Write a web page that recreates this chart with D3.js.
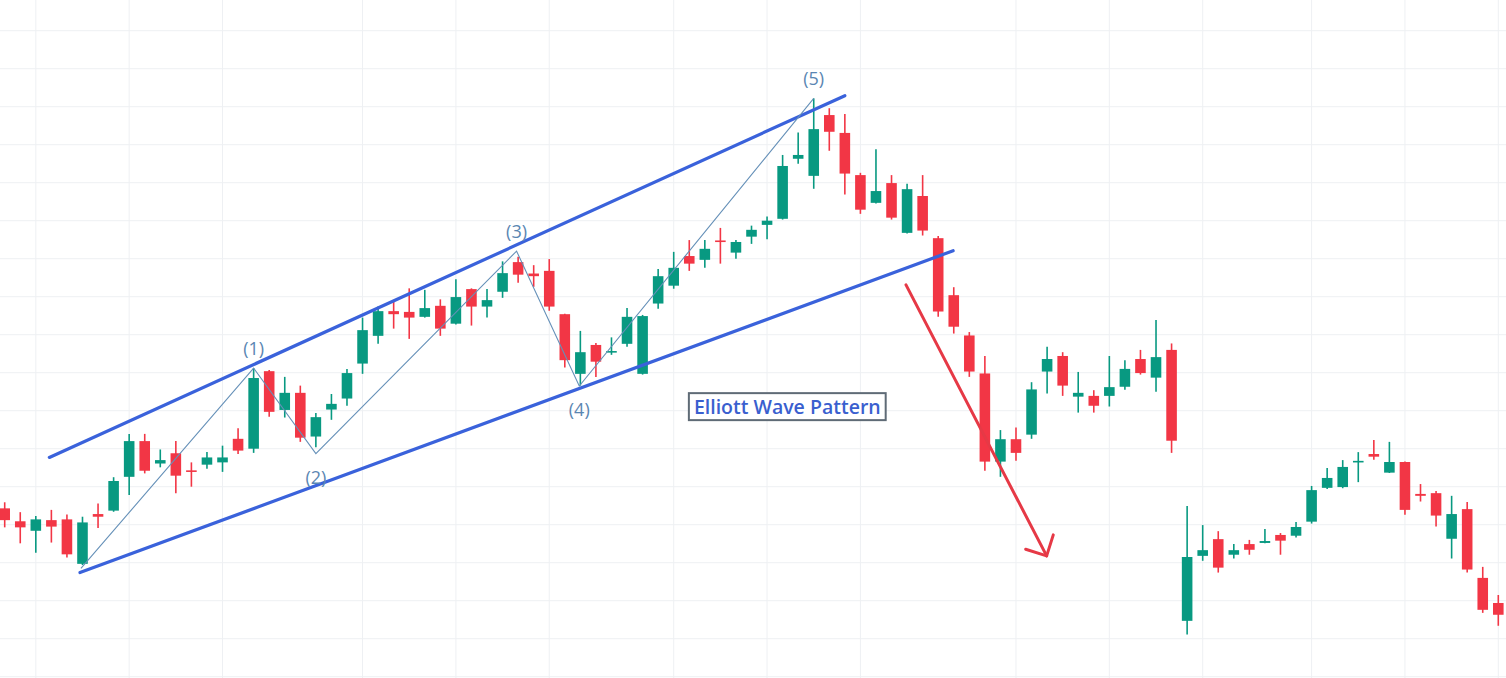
<!DOCTYPE html>
<html>
<head>
<meta charset="utf-8">
<script src="https://cdn.jsdelivr.net/npm/d3@7"></script>
<style>
  html, body { margin: 0; padding: 0; background: #fff; overflow: hidden; }
</style>
</head>
<body>
<div id="chart"></div>
<script>
// candle values, one entry per bar (left to right)
const opens = [54.3, 50.9, 48.4, 51.2, 51.4, 39.7, 52.8, 53.7, 62.6, 72.0,
  66.1, 68.8, 64.3, 65.8, 66.4, 72.6, 70.0, 90.4, 80.2, 84.7,
  73.2, 80.3, 83.2, 92.4, 99.7, 106.2, 106.0, 104.7, 107.6, 102.9,
  112.0, 107.4, 111.3, 119.1, 116.1, 116.8, 105.4, 89.7, 97.3, 95.3,
  97.6, 89.7, 108.2, 112.9, 120.7, 119.7, 124.8, 121.6, 125.8, 128.9,
  130.5, 146.3, 141.8, 157.8, 153.1, 142.0, 134.7, 139.9, 126.8, 136.5,
  125.4, 110.4, 99.8, 89.8, 66.6, 72.5, 73.7, 90.3, 94.4, 83.7,
  83.9, 83.9, 86.3, 93.6, 88.7, 96.0, 24.7, 41.8, 46.2, 42.1,
  44.9, 45.2, 47.3, 47.1, 50.8, 59.7, 59.9, 66.5, 68.6, 63.7,
  66.5, 58.1, 58.3, 46.3, 54.1, 36.0, 29.4];
const highs = [55.9, 53.3, 52.3, 53.9, 52.7, 52.1, 55.6, 62.5, 73.9, 73.9,
  69.8, 72.0, 66.4, 69.1, 70.8, 75.4, 91.2, 90.7, 88.9, 86.6,
  79.4, 84.4, 91.0, 104.5, 107.4, 108.9, 112.2, 111.8, 109.3, 114.6,
  112.2, 112.0, 119.3, 120.5, 118.3, 119.9, 105.5, 101.0, 97.8, 99.3,
  107.0, 105.2, 117.3, 121.8, 124.9, 124.9, 128.1, 124.9, 128.7, 131.1,
  147.3, 153.2, 162.2, 159.6, 158.1, 142.6, 148.8, 142.0, 139.7, 142.0,
  126.0, 112.5, 100.7, 94.4, 74.9, 75.6, 87.5, 96.8, 95.4, 90.2,
  85.4, 94.4, 93.3, 96.0, 103.9, 97.7, 54.9, 49.9, 48.3, 44.9,
  46.0, 48.9, 47.8, 50.7, 60.2, 64.9, 67.0, 69.1, 72.3, 71.8,
  66.6, 60.7, 58.9, 57.6, 56.0, 38.9, 31.5];
const lows = [49.3, 45.1, 42.6, 45.3, 41.4, 39.4, 49.1, 53.4, 57.8, 63.5,
  65.1, 58.3, 60.0, 64.7, 63.9, 68.6, 68.9, 78.4, 78.2, 71.8,
  70.4, 77.6, 81.3, 89.7, 97.6, 101.6, 98.9, 104.5, 99.7, 102.7,
  102.4, 104.5, 109.7, 113.7, 112.6, 106.3, 91.4, 86.6, 88.9, 94.7,
  96.8, 89.5, 106.8, 112.1, 116.8, 117.6, 118.7, 120.0, 123.9, 125.1,
  130.3, 145.0, 138.4, 148.4, 136.9, 131.8, 134.5, 130.3, 126.6, 126.1,
  104.7, 100.3, 88.9, 64.2, 62.6, 66.8, 72.6, 84.5, 83.9, 79.5,
  79.5, 81.1, 85.5, 89.5, 85.0, 68.9, 21.1, 40.5, 37.4, 41.1,
  42.1, 45.1, 42.1, 46.6, 50.3, 59.4, 59.6, 61.2, 67.1, 63.6,
  52.6, 56.1, 49.5, 41.1, 37.4, 26.8, 23.4];
const closes = [51.2, 49.3, 51.4, 49.5, 42.2, 50.6, 52.1, 61.5, 72.0, 64.2,
  67.0, 62.9, 64.1, 67.7, 67.7, 69.5, 88.6, 79.7, 84.7, 72.9,
  78.3, 81.8, 89.9, 101.2, 106.2, 105.4, 104.5, 107.0, 101.6, 109.9,
  107.4, 109.1, 116.2, 115.8, 115.4, 107.4, 93.3, 95.4, 92.9, 95.7,
  104.7, 104.9, 115.4, 117.6, 118.7, 122.6, 124.5, 124.4, 127.6, 130.0,
  144.4, 147.3, 154.1, 153.4, 142.4, 132.9, 137.8, 130.8, 138.3, 127.4,
  106.1, 102.1, 90.3, 66.6, 72.5, 68.9, 85.6, 93.6, 86.6, 84.7,
  81.3, 86.2, 91.0, 89.9, 94.1, 72.1, 41.5, 43.3, 38.7, 43.3,
  43.4, 45.7, 45.8, 49.4, 59.1, 62.3, 65.2, 66.8, 67.9, 66.5,
  53.9, 57.6, 52.4, 52.8, 38.2, 27.6, 26.3];

// grid: price levels and the bars where the time grid falls
const priceTicks = d3.range(10, 190, 10);
const timeTicks = [2, 8, 14, 23, 29, 35, 43, 49, 55, 65, 71, 77, 84, 90, 96];

// wave drawing, [bar, price]
const wavePoints = [[4.9, 38.5], [16, 91.2], [20, 68.7], [32.9, 122.0], [36.93, 86.5], [52, 162.2]];
const waveLabels = ["(1)", "(2)", "(3)", "(4)", "(5)"];
const upperChannel = [[2.87, 67.7], [54.0, 162.9]];
const lowerChannel = [[4.84, 37.4], [60.96, 122.1]];
const breakArrow = [[57.93, 113.1], [66.97, 41.8]];
const titleSpot = [50.3, 81.2];
const title = "Elliott Wave Pattern";

const width = 1506, height = 678;
const up = "#089981", down = "#f23645";

const svg = d3.select("#chart")
  .append("svg")
  .attr("width", width)
  .attr("height", height);

const x = d3.scaleLinear().domain([0, opens.length - 1]).range([4.7, 1498.3]);
const y = d3.scaleLinear().domain([10, 180]).range([676.7, 30.7]);

const step = x(1) - x(0);
const bodyW = step * 0.68;

// grid lines
svg.append("g")
  .selectAll("line")
  .data(priceTicks)
  .enter().append("line")
  .attr("x1", 0).attr("x2", width)
  .attr("y1", d => y(d)).attr("y2", d => y(d))
  .attr("stroke", "#eef0f3").attr("stroke-width", 1);

svg.append("g")
  .selectAll("line")
  .data(timeTicks)
  .enter().append("line")
  .attr("x1", d => x(d)).attr("x2", d => x(d))
  .attr("y1", 0).attr("y2", height)
  .attr("stroke", "#eef0f3").attr("stroke-width", 1);

// candles
const candles = opens.map((o, i) => ({ i, o, h: highs[i], l: lows[i], c: closes[i] }));

const g = svg.append("g");
g.selectAll(".wick")
  .data(candles)
  .enter().append("line")
  .attr("class", "wick")
  .attr("x1", d => x(d.i)).attr("x2", d => x(d.i))
  .attr("y1", d => y(d.h)).attr("y2", d => y(d.l))
  .attr("stroke", d => d.c >= d.o ? up : down)
  .attr("stroke-width", 1.6);

g.selectAll(".body")
  .data(candles)
  .enter().append("rect")
  .attr("class", "body")
  .attr("x", d => x(d.i) - bodyW / 2)
  .attr("width", bodyW)
  .attr("y", d => y(Math.max(d.o, d.c)))
  .attr("height", d => Math.max(1.6, Math.abs(y(d.o) - y(d.c))))
  .attr("fill", d => d.c >= d.o ? up : down);

// channel lines
const line = d3.line().x(d => x(d[0])).y(d => y(d[1]));

[upperChannel, lowerChannel].forEach(ch => {
  svg.append("path")
    .attr("d", line(ch))
    .attr("fill", "none")
    .attr("stroke", "#3a62db")
    .attr("stroke-width", 3.2)
    .attr("stroke-linecap", "round");
});

// wave zigzag
svg.append("path")
  .attr("d", line(wavePoints))
  .attr("fill", "none")
  .attr("stroke", "#6590b8")
  .attr("stroke-width", 1.1);

svg.selectAll(".wave-label")
  .data(waveLabels)
  .enter().append("text")
  .attr("class", "wave-label")
  .attr("x", (d, k) => x(wavePoints[k + 1][0]))
  .attr("y", (d, k) => y(wavePoints[k + 1][1]) + (k % 2 === 0 ? -13 : 30))
  .attr("text-anchor", "middle")
  .attr("font-family", "Open Sans, sans-serif")
  .attr("font-size", 18)
  .attr("fill", "#5a86b2")
  .text(d => d);

// breakdown arrow
const a0 = [x(breakArrow[0][0]), y(breakArrow[0][1])];
const a1 = [x(breakArrow[1][0]), y(breakArrow[1][1])];
const ang = Math.atan2(a0[1] - a1[1], a0[0] - a1[0]);
const headLen = 22, spread = Math.PI / 4;
const head = [
  [a1[0] + headLen * Math.cos(ang + spread), a1[1] + headLen * Math.sin(ang + spread)],
  a1,
  [a1[0] + headLen * Math.cos(ang - spread), a1[1] + headLen * Math.sin(ang - spread)]
];
svg.append("line")
  .attr("x1", a0[0]).attr("y1", a0[1])
  .attr("x2", a1[0]).attr("y2", a1[1])
  .attr("stroke", "#e63946").attr("stroke-width", 3)
  .attr("stroke-linecap", "round");
svg.append("path")
  .attr("d", d3.line()(head))
  .attr("fill", "none")
  .attr("stroke", "#e63946").attr("stroke-width", 3)
  .attr("stroke-linecap", "round").attr("stroke-linejoin", "round");

// title box
const tg = svg.append("g");
const txt = tg.append("text")
  .attr("x", x(titleSpot[0]))
  .attr("y", y(titleSpot[1]))
  .attr("text-anchor", "middle")
  .attr("dominant-baseline", "central")
  .attr("font-family", "Open Sans, sans-serif")
  .attr("font-size", 19.5)
  .attr("font-weight", 600)
  .attr("fill", "#3a5fcf")
  .text(title);
const bb = txt.node().getBBox();
tg.insert("rect", "text")
  .attr("x", bb.x - 5).attr("y", bb.y + 0.5)
  .attr("width", bb.width + 10).attr("height", bb.height)
  .attr("fill", "#fff")
  .attr("stroke", "#5f6b76").attr("stroke-width", 2);
</script>
</body>
</html>
